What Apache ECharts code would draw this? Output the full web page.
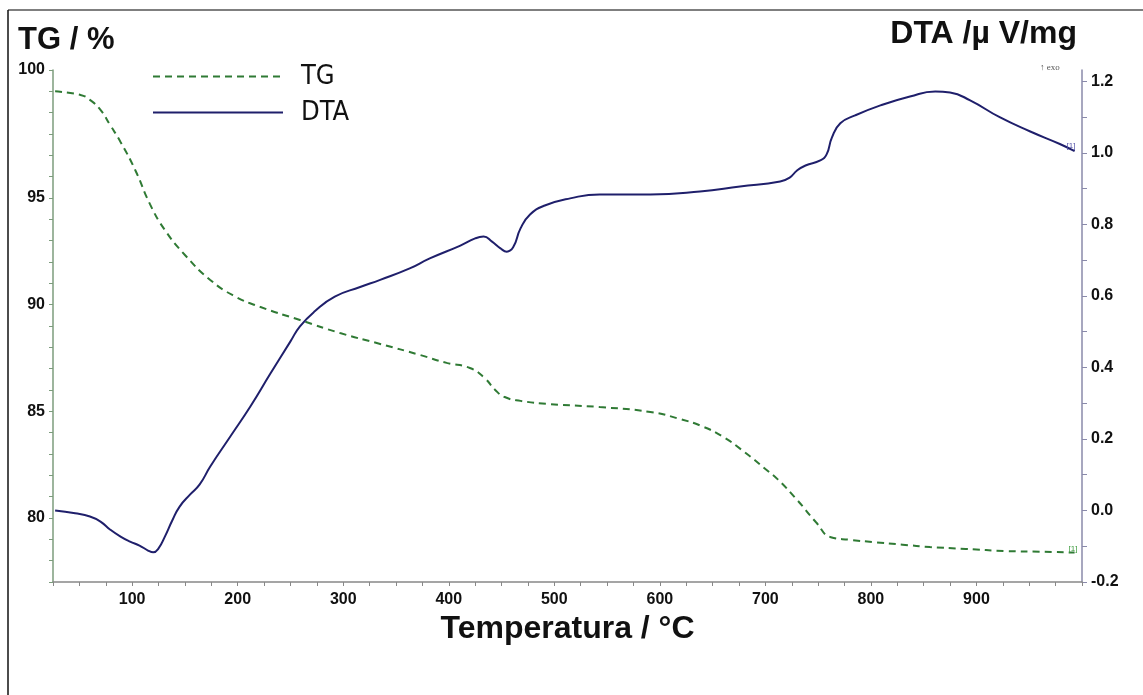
<!DOCTYPE html>
<html>
<head>
<meta charset="utf-8">
<script src="https://cdn.jsdelivr.net/npm/echarts@6/dist/echarts.min.js"></script>
<style>
html,body{margin:0;padding:0;background:#fff;}
#chart{width:1143px;height:695px;}
</style>
</head>
<body>
<div id="chart"></div>
<script>
// ---- data ----
const tgTemp = [27, 51, 60, 70, 79, 89, 103, 117, 131, 150, 174, 197, 221, 259, 297, 335, 373, 398, 420, 434, 444, 453, 468, 496, 543, 591, 619, 640, 660, 680, 700, 712, 730, 748, 762, 780, 802, 830, 856, 890, 928, 960, 993];
const tgValue = [100.0, 99.83, 99.6, 99.13, 98.43, 97.63, 96.3, 94.7, 93.5, 92.33, 91.16, 90.4, 89.9, 89.28, 88.67, 88.16, 87.64, 87.27, 87.03, 86.56, 86.0, 85.67, 85.49, 85.34, 85.2, 84.97, 84.64, 84.3, 83.8, 83.1, 82.3, 81.8, 80.85, 79.8, 79.1, 78.98, 78.87, 78.75, 78.64, 78.55, 78.45, 78.42, 78.38];

const dtaTemp = [27, 46, 60, 70, 79, 89, 98, 107, 115, 120, 125, 131, 138, 145, 155, 164, 174, 193, 212, 231, 250, 259, 273, 292, 316, 335, 363, 382, 411, 425, 433, 441, 449, 455, 461, 468, 477, 491, 515, 543, 591, 638, 676, 714, 723, 730, 738, 752, 758, 763, 771, 785, 809, 837, 861, 875, 894, 922, 951, 979, 993];
const dtaValue = [0.0, -0.008, -0.017, -0.031, -0.053, -0.073, -0.087, -0.098, -0.112, -0.117, -0.106, -0.073, -0.028, 0.011, 0.045, 0.073, 0.123, 0.207, 0.291, 0.383, 0.473, 0.515, 0.557, 0.598, 0.625, 0.645, 0.677, 0.705, 0.741, 0.761, 0.766, 0.752, 0.733, 0.724, 0.736, 0.789, 0.828, 0.853, 0.873, 0.884, 0.884, 0.892, 0.906, 0.920, 0.931, 0.951, 0.965, 0.979, 0.996, 1.043, 1.083, 1.105, 1.133, 1.158, 1.172, 1.169, 1.147, 1.100, 1.060, 1.025, 1.005];

const xTickLabels = ['100', '200', '300', '400', '500', '600', '700', '800', '900'];
const tgTickValues = [80, 85, 90, 95, 101];
const tgTickLabels = ['80', '85', '90', '95', '100'];
const dtaTickLabels = ['-0.2', '0.0', '0.2', '0.4', '0.6', '0.8', '1.0', '1.2'];

// ---- chart ----
const FONT = '"Liberation Sans", Arial, sans-serif';
const NARROW = '"Liberation Sans Narrow", "DejaVu Sans Condensed", "Liberation Sans", sans-serif';
const TG_COLOR = '#2f7a34';
const DTA_COLOR = '#1f1f6b';

const chart = echarts.init(document.getElementById('chart'), null, {renderer: 'canvas'});

const option = {
  animation: false,
  backgroundColor: '#ffffff',
  grid: {left: 53, right: 61, top: 70, bottom: 113, containLabel: false},
  legend: {
    orient: 'vertical',
    left: 147,
    top: 58,
    itemWidth: 130,
    itemHeight: 14,
    itemGap: 9,
    itemStyle: {opacity: 0},
    textStyle: {fontFamily: NARROW, fontSize: 27, color: '#111', padding: [0, 0, 0, 13]},
    data: ['TG', 'DTA']
  },
  xAxis: {
    type: 'value',
    min: 25,
    max: 1000,
    interval: 25,
    name: 'Temperatura / °C',
    nameLocation: 'middle',
    nameGap: 30,
    nameTextStyle: {fontFamily: FONT, fontWeight: 'bold', fontSize: 32, color: '#111', verticalAlign: 'top'},
    axisLine: {show: true, onZero: false, lineStyle: {color: '#888', width: 1.5}},
    axisTick: {show: true, length: 4, lineStyle: {color: '#888'}},
    splitLine: {show: false},
    axisLabel: {
      margin: 10,
      fontFamily: FONT, fontWeight: 'bold', fontSize: 16, color: '#111',
      formatter: function (v) {
        const r = Math.round(v);
        const i = xTickLabels.indexOf(String(r));
        return i >= 0 && r % 100 === 0 ? xTickLabels[i] : '';
      }
    }
  },
  yAxis: [
    {
      type: 'value',
      min: 77,
      max: 101,
      interval: 1,
      position: 'left',
      axisLine: {show: true, onZero: false, lineStyle: {color: '#7c9c7c', width: 1.5}},
      axisTick: {show: true, length: 4, lineStyle: {color: '#7c9c7c'}},
      splitLine: {show: false},
      axisLabel: {
        margin: 8,
        fontFamily: FONT, fontWeight: 'bold', fontSize: 16, color: '#111',
        formatter: function (v) {
          const i = tgTickValues.indexOf(Math.round(v));
          return i >= 0 ? tgTickLabels[i] : '';
        }
      }
    },
    {
      type: 'value',
      min: -0.2,
      max: 1.232,
      interval: 0.1,
      position: 'right',
      axisLine: {show: true, onZero: false, lineStyle: {color: '#8a8aaa', width: 1.5}},
      axisTick: {show: true, length: 5, lineStyle: {color: '#8a8aaa'}},
      splitLine: {show: false},
      axisLabel: {
        margin: 9,
        fontFamily: FONT, fontWeight: 'bold', fontSize: 16, color: '#111',
        formatter: function (v) {
          const s = (Math.round(v * 10) / 10).toFixed(1);
          const t = s === '-0.0' ? '0.0' : s;
          return dtaTickLabels.indexOf(t) >= 0 ? t : '';
        }
      }
    }
  ],
  series: [
    {
      name: 'TG',
      type: 'line',
      yAxisIndex: 0,
      showSymbol: false,
      symbol: 'none',
      smooth: 0.5,
      lineStyle: {color: TG_COLOR, width: 2, type: [7, 5]},
      itemStyle: {color: TG_COLOR},
      endLabel: {show: true, formatter: '[1]', fontSize: 8, color: '#3a9a3a', offset: [-14, -4], fontFamily: FONT},
      data: tgTemp.map((t, i) => [t, tgValue[i]])
    },
    {
      name: 'DTA',
      type: 'line',
      yAxisIndex: 1,
      showSymbol: false,
      symbol: 'none',
      smooth: 0.5,
      lineStyle: {color: DTA_COLOR, width: 2},
      itemStyle: {color: DTA_COLOR},
      endLabel: {show: true, formatter: '[1]', fontSize: 8, color: '#5555aa', offset: [-16, -5], fontFamily: FONT},
      data: dtaTemp.map((t, i) => [t, dtaValue[i]])
    }
  ],
  graphic: [
    {type: 'line', shape: {x1: 8, y1: 10, x2: 1143, y2: 10}, style: {stroke: '#555', lineWidth: 1.5}},
    {type: 'line', shape: {x1: 8, y1: 10, x2: 8, y2: 695}, style: {stroke: '#111', lineWidth: 1.5}},
    {type: 'text', left: 18, top: 25, style: {text: 'TG / %', font: 'bold 31px "Liberation Sans", Arial, sans-serif', fill: '#111'}},
    {type: 'text', right: 66, top: 18, style: {text: 'DTA /µ V/mg', font: 'bold 32px "Liberation Sans", Arial, sans-serif', fill: '#111'}},
    {type: 'text', left: 1040, top: 63, style: {text: '↑ exo', font: '9px "Liberation Serif", serif', fill: '#555'}}
  ]
};
chart.setOption(option);
</script>
</body>
</html>
